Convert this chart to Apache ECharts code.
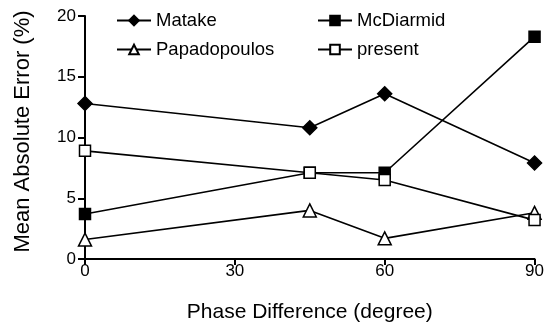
<!DOCTYPE html>
<html>
<head>
<meta charset="utf-8">
<script src="https://cdn.jsdelivr.net/npm/echarts@6/dist/echarts.min.js"></script>
<style>
  html, body { margin: 0; padding: 0; background: #fff; }
  #chart { width: 547px; height: 329px; }
</style>
</head>
<body>
<div id="chart"></div>
<script>
var phase = [0, 45, 60, 90]
var matake = [12.8, 10.8, 13.6, 7.9]
var mcdiarmid = [3.7, 7.1, 7.1, 18.3]
var papadopoulos = [1.6, 4.0, 1.7, 3.8]
var present = [8.9, 7.1, 6.5, 3.2]

function pairs(ys) {
    return phase.map(function (x, i) { return [x, ys[i]] })
}

var chart = echarts.init(document.getElementById('chart'))
var font = 'Liberation Sans, Arial, sans-serif'

function line(name, ys, symbol, size, fill) {
    return {
        name: name,
        type: 'line',
        data: pairs(ys),
        symbol: symbol,
        symbolSize: size,
        showAllSymbol: true,
        lineStyle: { color: '#000', width: 1.6 },
        itemStyle: { color: fill, borderColor: '#000', borderWidth: 1.5 },
        emphasis: { disabled: true },
        z: 3
    }
}

var legendText = { fontSize: 18.5, color: '#000', fontFamily: font }

var option = {
    animation: false,
    backgroundColor: '#fff',
    textStyle: { fontFamily: font, color: '#000' },
    grid: { left: 85, right: 10, top: 16, bottom: 70, containLabel: false },
    legend: [{
        data: ['Matake', 'Papadopoulos'],
        orient: 'vertical',
        left: 111, top: 6,
        itemWidth: 34, itemHeight: 12, itemGap: 10,
        textStyle: legendText
    }, {
        data: ['McDiarmid', 'present'],
        orient: 'vertical',
        left: 312, top: 6,
        itemWidth: 34, itemHeight: 12, itemGap: 10,
        textStyle: legendText
    }],
    xAxis: {
        type: 'value',
        min: 0, max: 90, interval: 30,
        name: 'Phase Difference (degree)',
        nameLocation: 'middle',
        nameGap: 43,
        nameTextStyle: { fontSize: 21, color: '#000' },
        axisLine: { show: true, lineStyle: { color: '#000', width: 2 } },
        axisTick: { show: true, length: 6, lineStyle: { color: '#000', width: 2 } },
        axisLabel: { fontSize: 17, color: '#000', margin: 4 },
        splitLine: { show: false }
    },
    yAxis: {
        type: 'value',
        min: 0, max: 20, interval: 5,
        name: 'Mean Absolute Error (%)',
        nameLocation: 'middle',
        nameGap: 51,
        nameTextStyle: { fontSize: 22, color: '#000', padding: [0, 0, 0, 12] },
        axisLine: { show: true, lineStyle: { color: '#000', width: 2 } },
        axisTick: { show: true, length: 7, lineStyle: { color: '#000', width: 2 } },
        axisLabel: { fontSize: 17, color: '#000', margin: 9 },
        splitLine: { show: false }
    },
    series: [
        line('Matake', matake, 'diamond', 14, '#000'),
        line('McDiarmid', mcdiarmid, 'rect', 11, '#000'),
        line('Papadopoulos', papadopoulos, 'triangle', 13, '#fff'),
        line('present', present, 'rect', 11, '#fff')
    ]
}
chart.setOption(option)
</script>
</body>
</html>
